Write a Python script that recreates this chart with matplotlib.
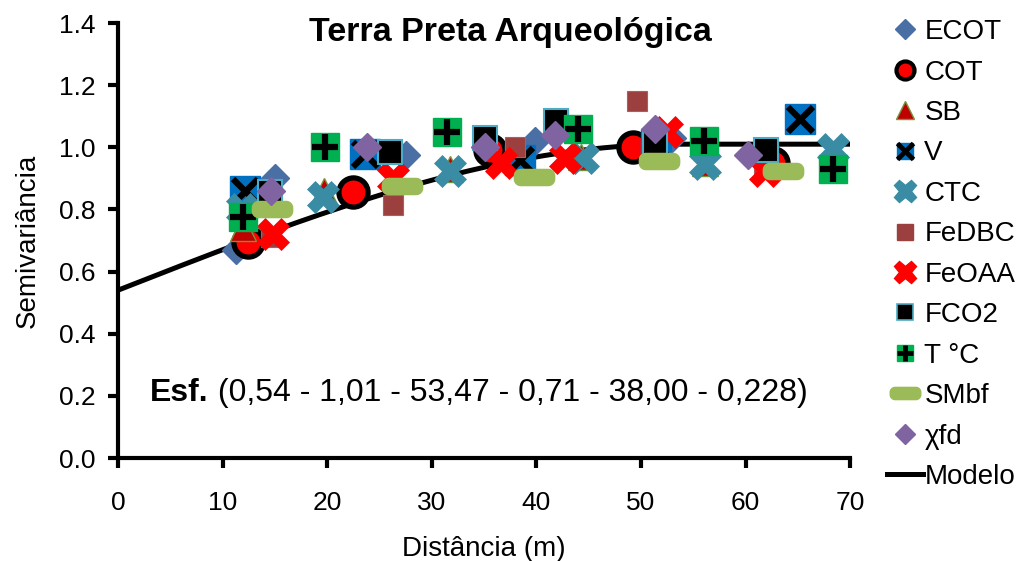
import numpy as np
import matplotlib
matplotlib.use("Agg")
import matplotlib.pyplot as plt
from matplotlib.path import Path
from matplotlib.lines import Line2D

plt.rcParams["font.family"] = ["Liberation Sans", "DejaVu Sans"]

# experimental semivariances (standardized) per attribute
ecot_h = [11.3, 15.0, 27.5, 39.9, 53.0]
ecot_g = [0.67, 0.90, 0.975, 1.02, 1.03]
cot_h = [12.4, 22.5, 35.6, 49.2, 62.6]
cot_g = [0.695, 0.856, 0.99, 1.00, 0.95]
sb_h = [12.0, 19.7, 31.7, 44.3, 56.1, 68.4]
sb_g = [0.74, 0.86, 0.93, 0.97, 0.95, 0.95]
v_h = [12.1, 23.6, 38.4, 51.4, 65.2]
v_g = [0.86, 0.98, 0.96, 1.01, 1.09]
ctc_h = [11.9, 19.6, 31.7, 44.5, 56.1, 68.4]
ctc_g = [0.80, 0.84, 0.925, 0.965, 0.945, 0.995]
fedbc_h = [14.6, 26.3, 38.0, 49.6, 61.8]
fedbc_g = [0.71, 0.815, 1.00, 1.15, 0.93]
feoaa_h = [14.8, 26.3, 36.6, 42.7, 52.5, 61.9]
feoaa_g = [0.72, 0.90, 0.95, 0.965, 1.05, 0.925]
fco2_h = [14.5, 26.0, 35.1, 41.9, 51.3, 62.0]
fco2_g = [0.855, 0.985, 1.03, 1.085, 1.01, 0.99]
temp_h = [12.0, 19.8, 31.5, 44.0, 56.0, 68.4]
temp_g = [0.775, 1.00, 1.05, 1.06, 1.02, 0.93]
smbf_h = [14.7, 27.2, 39.8, 51.7, 63.6]
smbf_g = [0.80, 0.875, 0.905, 0.955, 0.925]
xfd_h = [14.6, 23.8, 35.1, 41.8, 51.3, 60.2]
xfd_g = [0.86, 1.00, 1.00, 1.04, 1.06, 0.975]

# spherical model: C0, C0+C1, range a
c0, sill, a_range = 0.54, 1.01, 53.47


def spherical(h):
    h = np.asarray(h, dtype=float)
    r = np.clip(h / a_range, 0, 1)
    return c0 + (sill - c0) * (1.5 * r - 0.5 * r ** 3)


def rounded_bar(w=2.5, hgt=1.0, rad=0.4, n=8):
    # wide pill-shaped marker
    pts = []
    corners = [(w / 2 - rad, hgt / 2 - rad, 0), (-w / 2 + rad, hgt / 2 - rad, 90),
               (-w / 2 + rad, -hgt / 2 + rad, 180), (w / 2 - rad, -hgt / 2 + rad, 270)]
    for cx, cy, start in corners:
        for t in np.linspace(np.radians(start), np.radians(start + 90), n):
            pts.append((cx + rad * np.cos(t), cy + rad * np.sin(t)))
    pts.append(pts[0])
    return Path(pts, closed=True)


bar_marker = rounded_bar()

fig = plt.figure(figsize=(10.24, 5.61), dpi=100)
ax = fig.add_axes([0.1152, 0.1836, 0.715, 0.7754])

hh = np.linspace(0, 70, 300)
ax.plot(hh, spherical(hh), color="black", lw=3.6, zorder=1)

ax.plot(ecot_h, ecot_g, ls="none", marker="D", ms=14, color="#4A6FA5", mec="#4A6FA5", zorder=2)
ax.plot(cot_h, cot_g, ls="none", marker="o", ms=21, mfc="red", mec="black", mew=3.8, zorder=3)
ax.plot(sb_h, sb_g, ls="none", marker="^", ms=19, mfc="#C00000", mec="#77933C", mew=1, zorder=4)
ax.plot(v_h, v_g, ls="none", marker="s", ms=22, mfc="#0070C0", mec="#0070C0", zorder=5)
ax.plot(v_h, v_g, ls="none", marker="x", ms=18, mec="black", mew=4.5, zorder=5)
ax.plot(ctc_h, ctc_g, ls="none", marker="X", ms=23, mfc="#3A8CA4", mec="#3A8CA4", mew=0.5, zorder=6)
ax.plot(fedbc_h, fedbc_g, ls="none", marker="s", ms=15, mfc="#9B403E", mec="#B05C5A", mew=0.8, zorder=7)
ax.plot(feoaa_h, feoaa_g, ls="none", marker="X", ms=23, mfc="#FF0000", mec="#FF0000", mew=0.5, zorder=8)
ax.plot(fco2_h, fco2_g, ls="none", marker="s", ms=17, mfc="black", mec="#4BACC6", mew=1.5, zorder=9)
ax.plot(temp_h, temp_g, ls="none", marker="s", ms=19.5, mfc="#00B050", mec="#00B050", zorder=10)
ax.plot(temp_h, temp_g, ls="none", marker="+", ms=19, mec="black", mew=4.5, zorder=10)
ax.plot(smbf_h, smbf_g, ls="none", marker=bar_marker, ms=29, mfc="#9BBB59", mec="#9BBB59", zorder=11)
ax.plot(xfd_h, xfd_g, ls="none", marker="D", ms=14, mfc="#8064A2", mec="#8064A2", zorder=12)

ax.set_xlim(0, 70)
ax.set_ylim(0, 1.4)
ax.set_xticks(np.arange(0, 71, 10))
ax.set_yticks(np.arange(0, 1.41, 0.2))
ax.set_yticklabels([f"{v:.1f}" for v in np.arange(0, 1.41, 0.2)])
ax.tick_params(direction="out", length=7, width=3, labelsize=19)
ax.tick_params(axis="x", pad=17)
ax.tick_params(axis="y", pad=9)
for side in ("top", "right"):
    ax.spines[side].set_visible(False)
for side in ("left", "bottom"):
    ax.spines[side].set_linewidth(3)

ax.set_xlabel("Distância (m)", fontsize=20, labelpad=15)
ax.set_ylabel("Semivariância", fontsize=20, labelpad=13)
ax.text(0.536, 0.979, "Terra Preta Arqueológica", transform=ax.transAxes,
        ha="center", va="center", fontsize=24.5, fontweight="bold")

esf = ax.text(3.06, 0.21, "Esf.", fontsize=23, fontweight="bold", va="center")
ax.annotate(" (0,54 - 1,01 - 53,47 - 0,71 - 38,00 - 0,228)", xy=(1, 0.5), xycoords=esf,
            va="center", ha="left", fontsize=23)

# legend handles
def mk(**kw):
    return Line2D([], [], ls="none", **kw)

handles = [
    mk(marker="D", ms=10, color="#4A6FA5"),
    mk(marker="o", ms=13, mfc="red", mec="black", mew=3),
    mk(marker="^", ms=13, mfc="#C00000", mec="#77933C", mew=1),
    (mk(marker="s", ms=12, mfc="#0070C0", mec="#0070C0"), mk(marker="x", ms=11, mec="black", mew=3.5)),
    mk(marker="X", ms=16, mfc="#3A8CA4", mec="#3A8CA4"),
    mk(marker="s", ms=12, mfc="#9B403E", mec="#9B403E"),
    mk(marker="X", ms=16, mfc="red", mec="red"),
    mk(marker="s", ms=12, mfc="black", mec="#4BACC6", mew=1.2),
    (mk(marker="s", ms=12, mfc="#00B050", mec="#00B050"), mk(marker="+", ms=12, mec="black", mew=3.5)),
    mk(marker=bar_marker, ms=22, mfc="#9BBB59", mec="#9BBB59"),
    mk(marker="D", ms=10, color="#8064A2"),
    Line2D([], [], color="black", lw=3.6),
]
labels = ["ECOT", "COT", "SB", "V", "CTC", "FeDBC", "FeOAA", "FCO2", "T °C", "SMbf", "χfd", "Modelo"]
fig.legend(handles, labels, loc="upper left", bbox_to_anchor=(0.866, 0.966), frameon=False,
           fontsize=20, labelspacing=0.52, handlelength=1.3, handletextpad=0.05,
           borderaxespad=0, borderpad=0)

fig.savefig("out.png", dpi=100)
